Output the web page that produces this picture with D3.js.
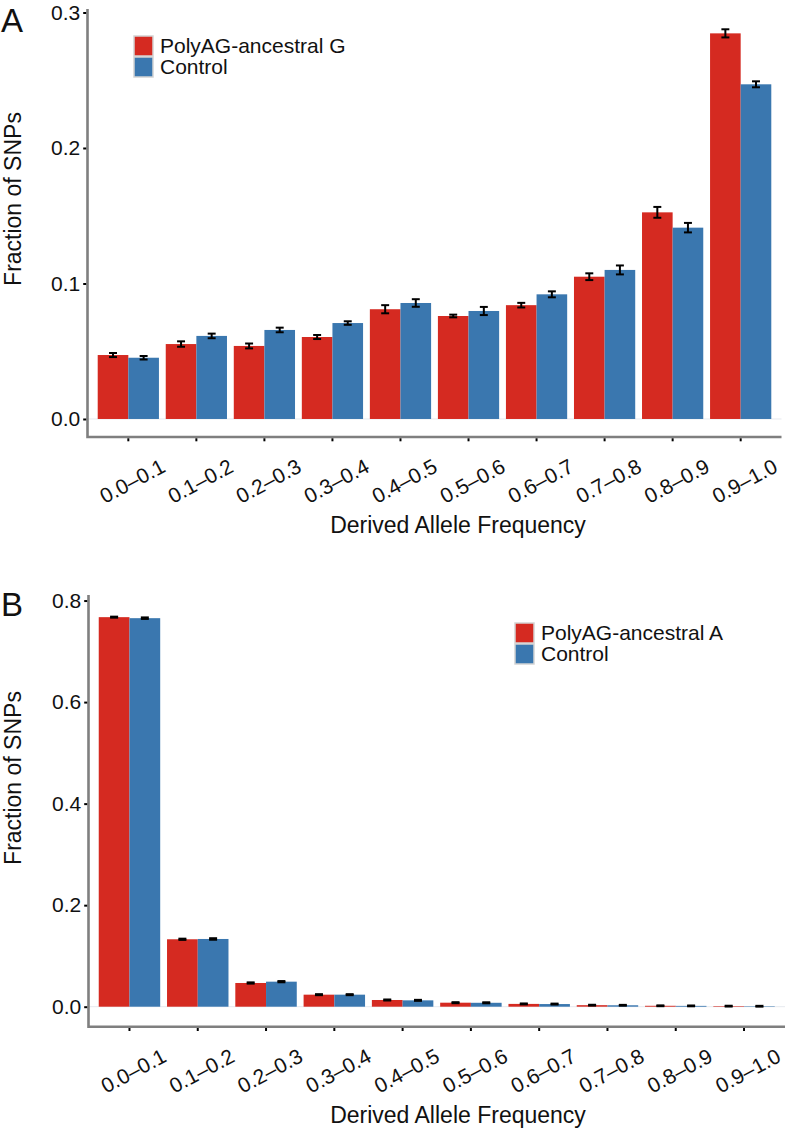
<!DOCTYPE html>
<html>
<head>
<meta charset="utf-8">
<script src="https://cdn.jsdelivr.net/npm/d3@7"></script>
<style>
  body { margin: 0; background: #fff; }
  svg text { font-family: "Liberation Sans", Arial, sans-serif; fill: #111; }
</style>
</head>
<body>
<svg id="chart" width="787" height="1129"></svg>
<script>
// bins of derived allele frequency
var categories = ["0.0–0.1", "0.1–0.2", "0.2–0.3", "0.3–0.4", "0.4–0.5",
                  "0.5–0.6", "0.6–0.7", "0.7–0.8", "0.8–0.9", "0.9–1.0"];

// panel A: PolyAG-ancestral G vs control
var polyG     = [0.0472, 0.0553, 0.0539, 0.0605, 0.0810, 0.0760, 0.0840, 0.1050, 0.1525, 0.2846];
var polyGErr  = [0.0015, 0.0020, 0.0018, 0.0015, 0.0030, 0.0010, 0.0017, 0.0025, 0.0040, 0.0030];
var ctrlA     = [0.0452, 0.0613, 0.0657, 0.0708, 0.0856, 0.0797, 0.0920, 0.1100, 0.1412, 0.2470];
var ctrlAErr  = [0.0013, 0.0017, 0.0017, 0.0013, 0.0028, 0.0030, 0.0022, 0.0033, 0.0035, 0.0022];
var ticksA    = [0.0, 0.1, 0.2, 0.3];

// panel B: PolyAG-ancestral A vs control
var polyA     = [0.7673, 0.1328, 0.0467, 0.0237, 0.0132, 0.0079, 0.0055, 0.0030, 0.0018, 0.0011];
var polyAErr  = [0.0010, 0.0012, 0.0012, 0.0010, 0.0010, 0.0010, 0.0009, 0.0008, 0.0008, 0.0008];
var ctrlB     = [0.7653, 0.1334, 0.0493, 0.0237, 0.0125, 0.0077, 0.0052, 0.0028, 0.0016, 0.0009];
var ctrlBErr  = [0.0015, 0.0015, 0.0012, 0.0010, 0.0010, 0.0010, 0.0009, 0.0008, 0.0008, 0.0008];
var ticksB    = [0.0, 0.2, 0.4, 0.6, 0.8];

var red = "#d52a21";
var blue = "#3a77af";
var svg = d3.select("#chart");

function drawPanel(cfg) {
  var g = svg.append("g");

  var x = d3.scaleBand()
    .domain(categories)
    .range([cfg.left, cfg.right])
    .paddingInner(0.1)
    .paddingOuter(0.15);

  var sub = d3.scaleBand()
    .domain(["poly", "ctrl"])
    .range([0, x.bandwidth()]);

  var y = d3.scaleLinear()
    .domain(cfg.domain)
    .range([cfg.bottom, cfg.top]);

  var rows = categories.map(function(c, i) {
    return [
      { cat: c, key: "poly", v: cfg.poly[i], e: cfg.polyErr[i], col: red },
      { cat: c, key: "ctrl", v: cfg.ctrl[i], e: cfg.ctrlErr[i], col: blue }
    ];
  });
  var flat = d3.merge(rows);

  // faint baseline at zero
  g.append("line")
    .attr("x1", cfg.left).attr("x2", cfg.right)
    .attr("y1", y(0)).attr("y2", y(0))
    .attr("stroke", "#e6e9ee").attr("stroke-width", 1);

  g.selectAll("rect.bar")
    .data(flat)
    .enter()
    .append("rect")
    .attr("class", "bar")
    .attr("x", function(d) { return x(d.cat) + sub(d.key); })
    .attr("width", sub.bandwidth())
    .attr("y", function(d) { return y(d.v); })
    .attr("height", function(d) { return y(0) - y(d.v); })
    .attr("fill", function(d) { return d.col; });

  // error bars
  var cap = sub.bandwidth() * 0.13;
  var eb = g.selectAll("g.err")
    .data(flat)
    .enter()
    .append("g")
    .attr("class", "err")
    .attr("stroke", "#000")
    .attr("stroke-width", 2);
  eb.append("line")
    .attr("x1", function(d) { return x(d.cat) + sub(d.key) + sub.bandwidth() / 2; })
    .attr("x2", function(d) { return x(d.cat) + sub(d.key) + sub.bandwidth() / 2; })
    .attr("y1", function(d) { return y(d.v - d.e); })
    .attr("y2", function(d) { return y(d.v + d.e); });
  eb.selectAll("line.cap")
    .data(function(d) { return [d.v - d.e, d.v + d.e].map(function(v) { return { d: d, v: v }; }); })
    .enter()
    .append("line")
    .attr("class", "cap")
    .attr("x1", function(p) { return x(p.d.cat) + sub(p.d.key) + sub.bandwidth() / 2 - cap; })
    .attr("x2", function(p) { return x(p.d.cat) + sub(p.d.key) + sub.bandwidth() / 2 + cap; })
    .attr("y1", function(p) { return y(p.v); })
    .attr("y2", function(p) { return y(p.v); });

  // axis lines (gray)
  g.append("path")
    .attr("d", "M" + cfg.left + "," + (cfg.top - 2) + "V" + cfg.bottom + "H" + cfg.right)
    .attr("fill", "none")
    .attr("stroke", "#7f7f7f")
    .attr("stroke-width", 2.6);

  // y axis
  var yAxis = g.append("g")
    .attr("transform", "translate(" + (cfg.left - 1.3) + ",0)")
    .call(d3.axisLeft(y).tickValues(cfg.ticks).tickFormat(d3.format(".1f")).tickSize(3).tickPadding(3));
  yAxis.select(".domain").remove();
  yAxis.selectAll(".tick line").attr("stroke", "#000").attr("stroke-width", 2);
  yAxis.selectAll(".tick text").style("font-size", "21px").attr("fill", "#111");

  // x axis
  var xAxis = g.append("g")
    .attr("transform", "translate(0," + (cfg.bottom + 1.3) + ")")
    .call(d3.axisBottom(x).tickSize(3).tickFormat(""));
  xAxis.select(".domain").remove();
  xAxis.selectAll(".tick line").attr("stroke", "#000").attr("stroke-width", 2);

  g.selectAll("text.xlab")
    .data(categories)
    .enter()
    .append("text")
    .attr("class", "xlab")
    .attr("transform", function(d) {
      return "translate(" + (x(d) + x.bandwidth() / 2 + 4) + "," + (cfg.bottom + 44) + ") rotate(-28)";
    })
    .attr("text-anchor", "middle")
    .attr("dy", "0.35em")
    .style("font-size", "21px")
    .text(function(d) { return d; });

  g.append("text")
    .attr("x", 458)
    .attr("y", cfg.bottom + 96)
    .attr("text-anchor", "middle")
    .style("font-size", "23px")
    .text("Derived Allele Frequency");

  g.append("text")
    .attr("transform", "translate(21," + cfg.titleY + ") rotate(-90)")
    .attr("text-anchor", "middle")
    .style("font-size", "23px")
    .text("Fraction of SNPs");

  g.append("text")
    .attr("x", 1)
    .attr("y", cfg.letterY)
    .style("font-size", "33px")
    .text(cfg.letter);

  // legend
  var lg = g.append("g").attr("transform", "translate(" + cfg.legX + "," + cfg.legY + ")");
  var items = [{ name: cfg.polyName, col: red }, { name: "Control", col: blue }];
  var li = lg.selectAll("g").data(items).enter().append("g")
    .attr("transform", function(d, i) { return "translate(0," + (i * 21) + ")"; });
  li.append("rect")
    .attr("x", 0).attr("y", 0).attr("width", 19).attr("height", 20)
    .attr("fill", function(d) { return d.col; })
    .attr("stroke", "#d4d4d4").attr("stroke-width", 1.5);
  li.append("text")
    .attr("x", 26).attr("y", 17)
    .style("font-size", "21px")
    .text(function(d) { return d.name; });
}

drawPanel({
  letter: "A", letterY: 32, titleY: 199,
  left: 87.5, right: 781.5, top: 11, bottom: 437,
  domain: [-0.0133, 0.3011],
  poly: polyG, polyErr: polyGErr, ctrl: ctrlA, ctrlErr: ctrlAErr,
  ticks: ticksA, polyName: "PolyAG-ancestral G",
  legX: 134, legY: 36
});

drawPanel({
  letter: "B", letterY: 616, titleY: 778,
  left: 88.5, right: 785, top: 597, bottom: 1026.7,
  domain: [-0.0394, 0.807],
  poly: polyA, polyErr: polyAErr, ctrl: ctrlB, ctrlErr: ctrlBErr,
  ticks: ticksB, polyName: "PolyAG-ancestral A",
  legX: 515, legY: 623
});
</script>
</body>
</html>
